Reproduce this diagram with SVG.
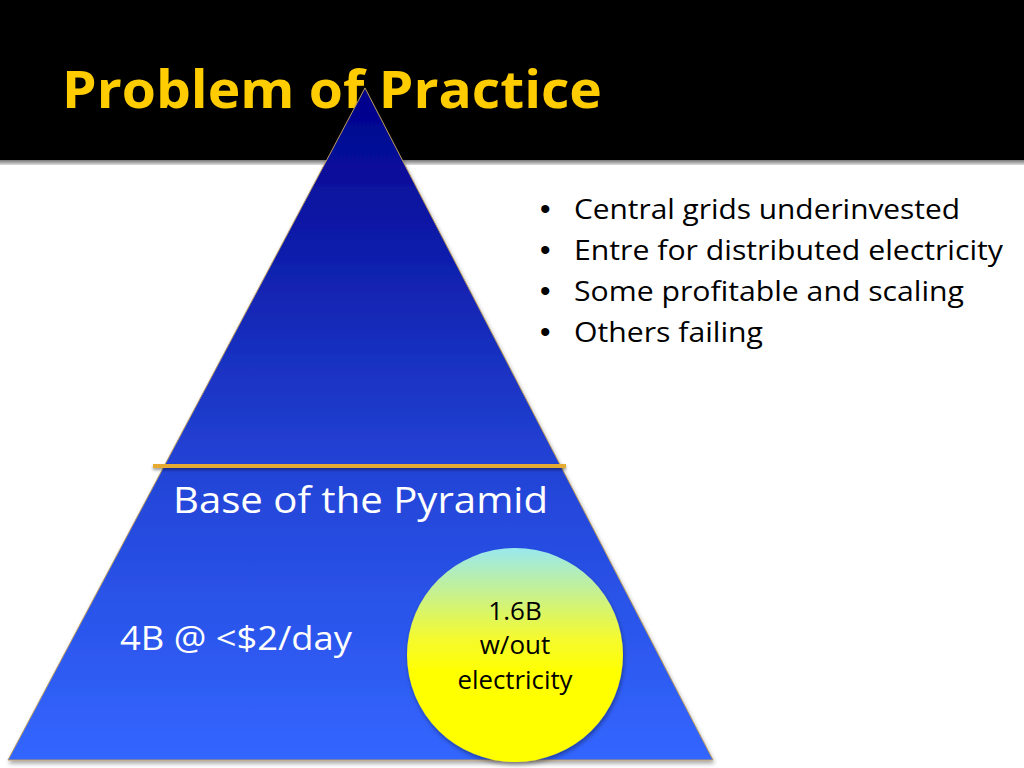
<svg xmlns="http://www.w3.org/2000/svg" width="1024" height="768" viewBox="0 0 1024 768">
<defs>
<linearGradient id="pyr" x1="0" y1="88" x2="0" y2="760" gradientUnits="userSpaceOnUse">
<stop offset="0" stop-color="#00008A"/>
<stop offset="0.55" stop-color="#2242D4"/>
<stop offset="1" stop-color="#3366FF"/>
</linearGradient>
<linearGradient id="sun" x1="0" y1="0" x2="0" y2="1">
<stop offset="0" stop-color="#99E8EE"/>
<stop offset="0.42" stop-color="#F4FA30"/>
<stop offset="0.58" stop-color="#FFFF00"/>
<stop offset="1" stop-color="#FFFF00"/>
</linearGradient>
<linearGradient id="rule" x1="0" y1="0" x2="0" y2="1">
<stop offset="0" stop-color="#777777"/>
<stop offset="1" stop-color="#DDDDDD"/>
</linearGradient>
<filter id="sh" x="-10%" y="-10%" width="120%" height="120%">
<feDropShadow dx="1" dy="3" stdDeviation="2" flood-color="#000" flood-opacity="0.35"/>
</filter>
<filter id="shl" filterUnits="userSpaceOnUse" x="140" y="455" width="440" height="25">
<feDropShadow dx="0" dy="2" stdDeviation="1.5" flood-color="#000" flood-opacity="0.4"/>
</filter>
<style>
.title{font-family:"Open Sans","Liberation Sans",sans-serif;font-weight:bold;font-size:52px;fill:#FFCC00}
.bul{font-family:"Open Sans","Liberation Sans",sans-serif;font-size:28px;fill:#000}
.dot{font-family:"Liberation Sans",sans-serif;font-size:30px;fill:#000}
.wt{font-family:"Open Sans","Liberation Sans",sans-serif;fill:#FFFFFF}
.ct{font-family:"Open Sans","Liberation Sans",sans-serif;font-size:26px;fill:#000;text-anchor:middle}
</style>
</defs>
<rect x="0" y="0" width="1024" height="768" fill="#FFFFFF"/>
<rect x="0" y="0" width="1024" height="160" fill="#000000"/>
<rect x="0" y="160" width="1024" height="5" fill="url(#rule)"/>
<text class="title" x="62" y="108" textLength="540" lengthAdjust="spacingAndGlyphs">Problem of Practice</text>
<g id="pyramid">
<polygon points="365,88 8,760 713,760" fill="url(#pyr)" stroke="#B89A60" stroke-width="1" filter="url(#sh)"/>
<rect x="153" y="464" width="413" height="4" fill="#E4AA30" filter="url(#shl)"/>
<text class="wt" x="173" y="513" font-size="37" textLength="375" lengthAdjust="spacingAndGlyphs">Base of the Pyramid</text>
<text class="wt" x="120" y="650" font-size="33" textLength="232" lengthAdjust="spacingAndGlyphs">4B @ &lt;$2/day</text>
</g>
<g id="circle">
<ellipse cx="515" cy="655" rx="108" ry="107" fill="url(#sun)" filter="url(#sh)"/>
<text class="ct" x="515" y="620">1.6B</text>
<text class="ct" x="515" y="654">w/out</text>
<text class="ct" x="515" y="689" textLength="115" lengthAdjust="spacingAndGlyphs">electricity</text>
</g>
<g id="bullets">
<text class="dot" x="540" y="219">•</text>
<text class="bul" x="574" y="219" textLength="386" lengthAdjust="spacingAndGlyphs">Central grids underinvested</text>
<text class="dot" x="540" y="260">•</text>
<text class="bul" x="574" y="260" textLength="429" lengthAdjust="spacingAndGlyphs">Entre for distributed electricity</text>
<text class="dot" x="540" y="301">•</text>
<text class="bul" x="574" y="301" textLength="390" lengthAdjust="spacingAndGlyphs">Some profitable and scaling</text>
<text class="dot" x="540" y="342">•</text>
<text class="bul" x="574" y="342" textLength="189" lengthAdjust="spacingAndGlyphs">Others failing</text>
</g>
</svg>
